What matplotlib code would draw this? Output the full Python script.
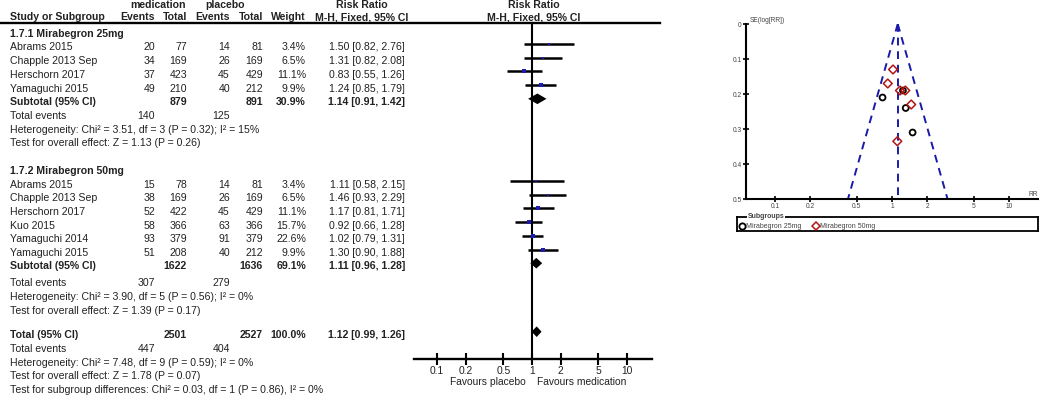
import numpy as np
import matplotlib
matplotlib.use('Agg')
import matplotlib.pyplot as plt
from matplotlib.lines import Line2D

plt.rcParams['font.family'] = ['Liberation Sans', 'DejaVu Sans']

# ---- data ----
studies_25 = ['Abrams 2015', 'Chapple 2013 Sep', 'Herschorn 2017', 'Yamaguchi 2015']
med_events_25 = [20, 34, 37, 49]
med_total_25 = [77, 169, 423, 210]
pla_events_25 = [14, 26, 45, 40]
pla_total_25 = [81, 169, 429, 212]
weight_25 = [3.4, 6.5, 11.1, 9.9]
rr_25 = [1.50, 1.31, 0.83, 1.24]
lo_25 = [0.82, 0.82, 0.55, 0.85]
hi_25 = [2.76, 2.08, 1.26, 1.79]
se_25 = [0.31, 0.24, 0.21, 0.19]

studies_50 = ['Abrams 2015', 'Chapple 2013 Sep', 'Herschorn 2017', 'Kuo 2015',
              'Yamaguchi 2014', 'Yamaguchi 2015']
med_events_50 = [15, 38, 52, 58, 93, 51]
med_total_50 = [78, 169, 422, 366, 379, 208]
pla_events_50 = [14, 26, 45, 63, 91, 40]
pla_total_50 = [81, 169, 429, 366, 379, 212]
weight_50 = [3.4, 6.5, 11.1, 15.7, 22.6, 9.9]
rr_50 = [1.11, 1.46, 1.17, 0.92, 1.02, 1.30]
lo_50 = [0.58, 0.93, 0.81, 0.66, 0.79, 0.90]
hi_50 = [2.15, 2.29, 1.71, 1.28, 1.31, 1.88]
se_50 = [0.335, 0.23, 0.19, 0.17, 0.13, 0.19]

group_names = ['1.7.1 Mirabegron 25mg', '1.7.2 Mirabegron 50mg']
sub_med_total = [879, 1622]
sub_pla_total = [891, 1636]
sub_weight = [30.9, 69.1]
sub_rr = [1.14, 1.11]
sub_lo = [0.91, 0.96]
sub_hi = [1.42, 1.28]
sub_med_events = [140, 307]
sub_pla_events = [125, 279]
sub_het = ['Heterogeneity: Chi² = 3.51, df = 3 (P = 0.32); I² = 15%',
           'Heterogeneity: Chi² = 3.90, df = 5 (P = 0.56); I² = 0%']
sub_test = ['Test for overall effect: Z = 1.13 (P = 0.26)',
            'Test for overall effect: Z = 1.39 (P = 0.17)']

tot_med_total, tot_pla_total = 2501, 2527
tot_weight = 100.0
tot_rr, tot_lo, tot_hi = 1.12, 0.99, 1.26
tot_med_events, tot_pla_events = 447, 404
tot_het = 'Heterogeneity: Chi² = 7.48, df = 9 (P = 0.59); I² = 0%'
tot_test = 'Test for overall effect: Z = 1.78 (P = 0.07)'
tot_diff = 'Test for subgroup differences: Chi² = 0.03, df = 1 (P = 0.86), I² = 0%'

rr_ticks = [0.1, 0.2, 0.5, 1, 2, 5, 10]
se_ticks = [0, 0.1, 0.2, 0.3, 0.4, 0.5]

# ---- layout (pixels) ----
W, H = 1040, 395
ROW0, ROWH = 30.3, 13.7
TXT = '#222222'
FS = 7.6


def ypix(r):
    return ROW0 + ROWH * r


fig = plt.figure(figsize=(W / 100, H / 100), dpi=100)

# table axes, pixel units
tab = fig.add_axes([0, 0, 1, 1])
tab.set_xlim(0, W)
tab.set_ylim(H, 0)
tab.axis('off')

# forest axes, log x, pixel y
fax = fig.add_axes([414 / W, (H - 359) / H, 238 / W, 359 / H])
fax.set_xscale('log')
fax.set_xlim(10 ** -1.242, 10 ** 1.263)
fax.set_ylim(359, 0)
fax.patch.set_alpha(0)
for s in ['top', 'left', 'right']:
    fax.spines[s].set_visible(False)
fax.spines['bottom'].set_linewidth(1.7)
fax.set_yticks([])
fax.set_xticks(rr_ticks)
fax.set_xticklabels([str(t) for t in rr_ticks], fontsize=7.4, color=TXT)
fax.xaxis.set_minor_locator(matplotlib.ticker.NullLocator())
fax.tick_params(axis='x', direction='inout', length=8, width=1.5, pad=1)

cols_r = [155, 187, 230, 263, 306, 405]


def row_text(y, label, vals, bold=False, indent=10):
    fw = 'bold' if bold else 'normal'
    tab.text(indent, y, label, fontsize=FS, fontweight=fw, color=TXT, va='center', ha='left')
    for x, v in zip(cols_r, vals):
        if v is None:
            continue
        tab.text(x, y, v, fontsize=FS, fontweight=fw, color=TXT, va='center', ha='right')


def diamond(y, est, lo, hi, h=5.3):
    fax.fill([lo, est, hi, est], [y, y - h, y, y + h], color='black', lw=0)


# headers
tab.text(158, 5.5, 'medication', fontsize=FS, fontweight='bold', color=TXT, ha='center', va='center')
tab.text(225, 5.5, 'placebo', fontsize=FS, fontweight='bold', color=TXT, ha='center', va='center')
for xc in [362, 534]:
    tab.text(xc, 5.5, 'Risk Ratio', fontsize=FS, fontweight='bold', color=TXT, ha='center', va='center')
    tab.text(xc, 17.5, 'M-H, Fixed, 95% CI', fontsize=FS, fontweight='bold', color=TXT,
             ha='center', va='center')
row_text(17.5, 'Study or Subgroup', ['Events', 'Total', 'Events', 'Total', 'Weight', None], bold=True)
rule_y = 23
tab.plot([0, 660], [rule_y, rule_y], color='black', lw=1.7)

# vertical line of no effect
fax.plot([1, 1], [rule_y, 359], color='black', lw=1.5, clip_on=False)

groups = [
    (studies_25, med_events_25, med_total_25, pla_events_25, pla_total_25, weight_25, rr_25, lo_25, hi_25),
    (studies_50, med_events_50, med_total_50, pla_events_50, pla_total_50, weight_50, rr_50, lo_50, hi_50),
]
start_rows = [0, 10]
tail_shift = [0, 0.2]

for g, (names, me, mt, pe, pt, w, rr, lo, hi) in enumerate(groups):
    r0 = start_rows[g]
    tab.text(10, ypix(r0) + 3.5, group_names[g], fontsize=FS, fontweight='bold', color=TXT, va='center')
    for i in range(len(names)):
        y = ypix(r0 + 1 + i)
        row_text(y + 3.5, names[i],
                 [str(me[i]), str(mt[i]), str(pe[i]), str(pt[i]), f'{w[i]:.1f}%',
                  f'{rr[i]:.2f} [{lo[i]:.2f}, {hi[i]:.2f}]'])
        fax.plot([lo[i], hi[i]], [y, y], color='black', lw=1.8, solid_capstyle='butt')
        fax.plot(rr[i], y, 's', color='#1c1cb4', ms=max(1.5, 3.5 * np.sqrt(w[i] / 22.6)), mew=0)
    rs = r0 + 1 + len(names)
    y = ypix(rs)
    row_text(y + 2.8, 'Subtotal (95% CI)',
             [None, str(sub_med_total[g]), None, str(sub_pla_total[g]), f'{sub_weight[g]:.1f}%',
              f'{sub_rr[g]:.2f} [{sub_lo[g]:.2f}, {sub_hi[g]:.2f}]'], bold=True)
    diamond(y, sub_rr[g], sub_lo[g], sub_hi[g])
    sh = tail_shift[g]
    row_text(ypix(rs + 1 + sh) + 3.5, 'Total events',
             [str(sub_med_events[g]), None, str(sub_pla_events[g]), None, None, None])
    tab.text(10, ypix(rs + 2 + sh) + 3.5, sub_het[g], fontsize=FS, color=TXT, va='center')
    tab.text(10, ypix(rs + 3 + sh) + 3.5, sub_test[g], fontsize=FS, color=TXT, va='center')

# overall
y = ypix(22)
row_text(y + 2.8, 'Total (95% CI)',
         [None, str(tot_med_total), None, str(tot_pla_total), f'{tot_weight:.1f}%',
          f'{tot_rr:.2f} [{tot_lo:.2f}, {tot_hi:.2f}]'], bold=True)
diamond(y, tot_rr, tot_lo, tot_hi)
row_text(ypix(23) + 3.5, 'Total events', [str(tot_med_events), None, str(tot_pla_events), None, None, None])
tab.text(10, ypix(24) + 3.5, tot_het, fontsize=FS, color=TXT, va='center')
tab.text(10, ypix(25) + 3.5, tot_test, fontsize=FS, color=TXT, va='center')
tab.text(10, ypix(26) + 3.5, tot_diff, fontsize=FS, color=TXT, va='center')

tab.text(526, 382, 'Favours placebo', fontsize=7.4, color=TXT, ha='right', va='center')
tab.text(537, 382, 'Favours medication', fontsize=7.4, color=TXT, ha='left', va='center')

# ---- funnel plot ----
GR = '#444444'
fun = fig.add_axes([746 / W, (H - 199) / H, 292 / W, 175 / H])
fun.set_xscale('log')
fun.set_xlim(10 ** -1.248, 10 ** 1.248)
fun.set_ylim(0.5, 0)
fun.patch.set_alpha(0)
fun.spines['top'].set_visible(False)
fun.spines['right'].set_visible(False)
fun.spines['left'].set_linewidth(1.5)
fun.spines['bottom'].set_linewidth(1.5)
fun.set_xticks(rr_ticks)
fun.set_xticklabels([str(t) for t in rr_ticks], fontsize=4.8, color=GR)
fun.xaxis.set_minor_locator(matplotlib.ticker.NullLocator())
fun.set_yticks(se_ticks)
fun.set_yticklabels(['0', '0.1', '0.2', '0.3', '0.4', '0.5'], fontsize=4.8, color=GR)
fun.tick_params(direction='inout', length=4, width=1.2, pad=1)
fun.text(0.012, 1.02, 'SE(log[RR])', transform=fun.transAxes, fontsize=4.8, color=GR, va='center')
fun.text(1.0, 0.025, 'RR', transform=fun.transAxes, fontsize=4.8, color=GR, ha='right', va='center')

se_max = 0.5
dash = dict(color='#1a1aa8', lw=1.4, ls=(0, (4, 3)))
fun.plot([tot_rr, tot_rr], [0, se_max], **dash)
fun.plot([tot_rr, tot_rr * np.exp(-1.96 * se_max)], [0, se_max], **dash)
fun.plot([tot_rr, tot_rr * np.exp(1.96 * se_max)], [0, se_max], **dash)

fun.scatter(rr_25, se_25, s=18, facecolors='none', edgecolors='black', linewidths=1.3, zorder=3)
fun.scatter(rr_50, se_50, s=20, marker='D', facecolors='none', edgecolors='#b01515',
            linewidths=1.1, zorder=3)

# legend box
lax = fig.add_axes([737 / W, (H - 231) / H, 301 / W, 14 / H])
lax.set_xticks([])
lax.set_yticks([])
for s in lax.spines.values():
    s.set_linewidth(1.3)
handles = [Line2D([], [], marker='o', ls='none', mfc='none', mec='black', ms=4.5, mew=1.3),
           Line2D([], [], marker='D', ls='none', mfc='none', mec='#b01515', ms=4.5, mew=1.1)]
lax.legend(handles, ['Mirabegron 25mg', 'Mirabegron 50mg'], loc='lower left', ncol=2,
           frameon=False, fontsize=5.0, handletextpad=0.15, handlelength=1.0,
           borderaxespad=0.0, borderpad=0.15, columnspacing=1.6, labelcolor=GR)
lax.text(0.035, 1.0, 'Subgroups', transform=lax.transAxes, fontsize=5.0, fontweight='bold',
         color=GR, va='center', bbox=dict(facecolor='white', edgecolor='none', pad=0.3))

fig.savefig('out.png', dpi=100)
